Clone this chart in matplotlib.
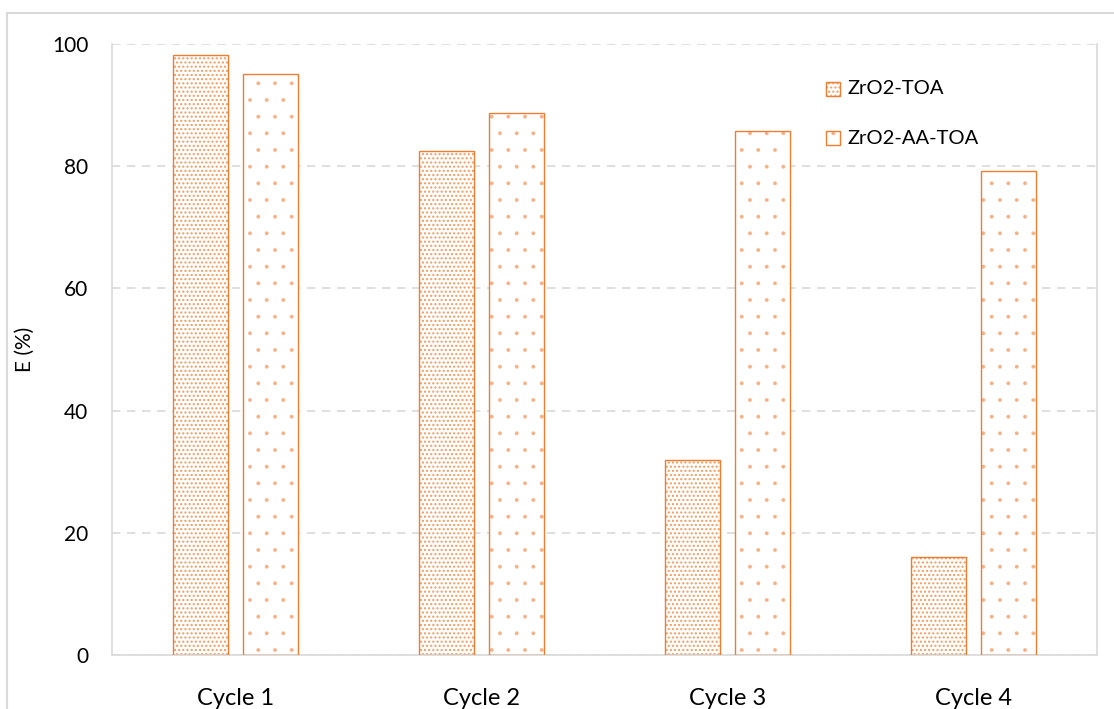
import matplotlib.pyplot as plt
import numpy as np
from matplotlib.lines import Line2D

plt.rcParams['font.family'] = ['Lato', 'DejaVu Sans']

cycles = ["Cycle 1", "Cycle 2", "Cycle 3", "Cycle 4"]
zro2_toa = [98.2, 82.5, 31.9, 16.0]
zro2_aa_toa = [95.1, 88.7, 85.8, 79.2]
series_names = ["ZrO2-TOA", "ZrO2-AA-TOA"]

orange = "#ED7D31"
dense_col = "#F29B5E"
sparse_col = "#F5B085"

fig = plt.figure(figsize=(11.14, 7.09), dpi=100)
ax = fig.add_axes([112 / 1114, 1 - 655 / 709, 985 / 1114, 611 / 709])

x = np.arange(len(cycles))
w = 0.224
off = 0.142

# hatch layer then outline
with plt.rc_context({'hatch.linewidth': 1.0}):
    ax.bar(x - off, zro2_toa, w, facecolor="white", edgecolor=dense_col, hatch="....", linewidth=0, zorder=2)
with plt.rc_context({'hatch.linewidth': 0.3}):
    ax.bar(x + off, zro2_aa_toa, w, facecolor="white", edgecolor=sparse_col, hatch=".", linewidth=0, zorder=2)
ax.bar(x - off, zro2_toa, w, facecolor="none", edgecolor=orange, linewidth=1.0, zorder=3)
ax.bar(x + off, zro2_aa_toa, w, facecolor="none", edgecolor=orange, linewidth=1.0, zorder=3)

ax.set_xlim(-0.5, 3.5)
ax.set_ylim(0, 100)
ax.set_yticks(range(0, 101, 20))
ax.set_xticks(x)
ax.set_xticklabels(cycles, fontsize=17)
ax.tick_params(axis="y", labelsize=15, length=0, pad=17)
ax.tick_params(axis="x", length=0, pad=24)
ax.set_ylabel("E (%)", fontsize=15)
ax.yaxis.set_label_coords(-0.078, 0.5)

ax.yaxis.grid(True, color="#D9D9D9", linestyle=(0, (5, 4)), linewidth=1.2, zorder=0)
ax.set_axisbelow(True)
for s in ["left", "bottom", "right"]:
    ax.spines[s].set_color("#D9D9D9")
    ax.spines[s].set_linewidth(1.2)
ax.spines["top"].set_visible(False)

# legend
fig.text(848 / 1114, 1 - 89 / 709, series_names[0], fontsize=14.5, va="center")
fig.text(848 / 1114, 1 - 138 / 709, series_names[1], fontsize=14.5, va="center")
for yy, h, c, lw in [(89, "....", dense_col, 1.0), (138, ".", sparse_col, 0.3)]:
    with plt.rc_context({'hatch.linewidth': lw}):
        r = plt.Rectangle((826 / 1114, 1 - (yy + 7) / 709), 14 / 1114, 14 / 709,
                          transform=fig.transFigure, facecolor="white",
                          edgecolor=c, hatch=h, linewidth=0)
    fig.patches.append(r)
    fig.patches.append(plt.Rectangle((826 / 1114, 1 - (yy + 7) / 709), 14 / 1114, 14 / 709,
                                     transform=fig.transFigure, facecolor="none",
                                     edgecolor=orange, linewidth=1))

# outer chart frame
fig.add_artist(Line2D([7 / 1114, 7 / 1114], [0, 1 - 13 / 709], transform=fig.transFigure, color="#D9D9D9", lw=1.5))
fig.add_artist(Line2D([7 / 1114, 1], [1 - 13 / 709, 1 - 13 / 709], transform=fig.transFigure, color="#D9D9D9", lw=1.5))

fig.savefig("out.png", dpi=100)
